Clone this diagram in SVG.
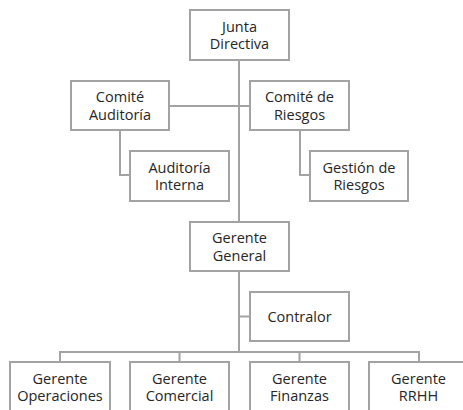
<svg xmlns="http://www.w3.org/2000/svg" width="463" height="410" viewBox="0 0 463 410">
<style>
.box{fill:#ffffff;stroke:#a3a3a3;stroke-width:2}
.con{fill:none;stroke:#a3a3a3;stroke-width:2}
text{font-family:"Open Sans","Liberation Sans",sans-serif;font-size:14.5px;fill:#262626;text-anchor:middle}
</style>
<rect width="463" height="410" fill="#ffffff"/>
<g id="connectors">
<path class="con" d="M239 60 V222"/>
<path class="con" d="M169 106 H250"/>
<path class="con" d="M120 130 V175 H130"/>
<path class="con" d="M300 130 V175 H310"/>
<path class="con" d="M239 271 V352"/>
<path class="con" d="M239 316.5 H250"/>
<path class="con" d="M60 352 H419"/>
<path class="con" d="M60 351 V362"/>
<path class="con" d="M179.5 351 V362"/>
<path class="con" d="M299.5 351 V362"/>
<path class="con" d="M419 351 V362"/>
</g>
<g id="junta-directiva">
<rect class="box" x="190" y="10" width="99" height="50"/>
<text x="239.5" y="31.5">Junta</text>
<text x="239.5" y="49">Directiva</text>
</g>
<g id="comite-auditoria">
<rect class="box" x="71" y="81" width="98" height="49"/>
<text x="120" y="102">Comité</text>
<text x="120" y="119.5">Auditoría</text>
</g>
<g id="comite-riesgos">
<rect class="box" x="250" y="81" width="99" height="49"/>
<text x="299.5" y="102">Comité de</text>
<text x="299.5" y="119.5">Riesgos</text>
</g>
<g id="auditoria-interna">
<rect class="box" x="130" y="151" width="99" height="50"/>
<text x="179.5" y="172.5">Auditoría</text>
<text x="179.5" y="190">Interna</text>
</g>
<g id="gestion-riesgos">
<rect class="box" x="310" y="151" width="98" height="50"/>
<text x="359" y="172.5">Gestión de</text>
<text x="359" y="190">Riesgos</text>
</g>
<g id="gerente-general">
<rect class="box" x="190" y="222" width="99" height="49"/>
<text x="239.5" y="243">Gerente</text>
<text x="239.5" y="260.5">General</text>
</g>
<g id="contralor">
<rect class="box" x="250" y="292" width="99" height="49"/>
<text x="299.5" y="321.5">Contralor</text>
</g>
<g id="gerente-operaciones">
<rect class="box" x="10" y="362" width="100" height="50"/>
<text x="60" y="383.5">Gerente</text>
<text x="60" y="401">Operaciones</text>
</g>
<g id="gerente-comercial">
<rect class="box" x="130" y="362" width="99" height="50"/>
<text x="179.5" y="383.5">Gerente</text>
<text x="179.5" y="401">Comercial</text>
</g>
<g id="gerente-finanzas">
<rect class="box" x="250" y="362" width="99" height="50"/>
<text x="299.5" y="383.5">Gerente</text>
<text x="299.5" y="401">Finanzas</text>
</g>
<g id="gerente-rrhh">
<rect class="box" x="369" y="362" width="99" height="50"/>
<text x="418.5" y="383.5">Gerente</text>
<text x="418.5" y="401">RRHH</text>
</g>
</svg>
